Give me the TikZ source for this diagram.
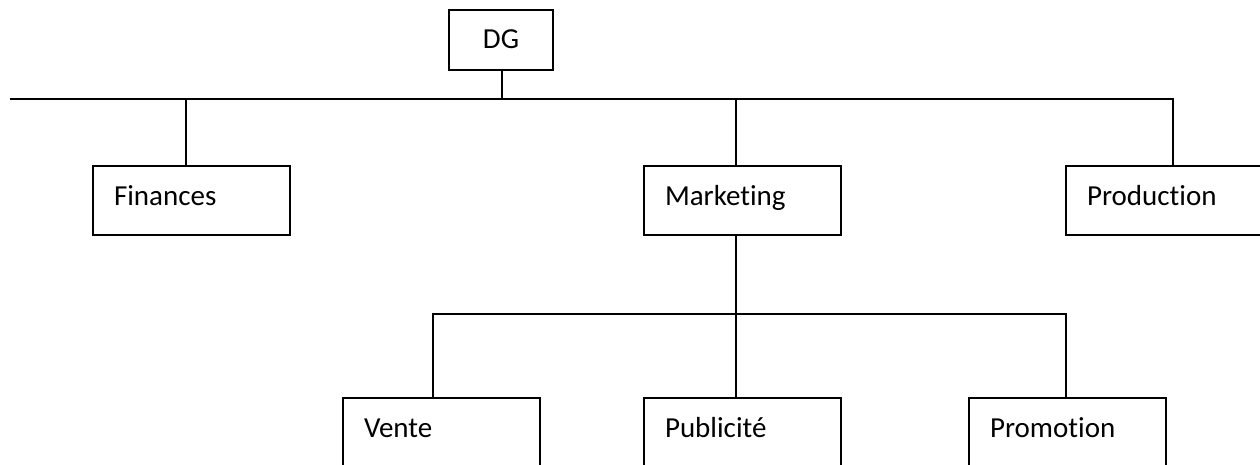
\documentclass[tikz,border=0pt]{standalone}
\usepackage{fontspec}
\setmainfont[Ligatures=NoCommon]{Carlito}
\begin{document}
\begin{tikzpicture}[x=1pt,y=-1pt,line width=2pt,
  unit/.style={draw,anchor=north west,inner xsep=21pt,inner ysep=0pt,
    text width=155pt,align=left,minimum height=69pt,
    text height=20pt,text depth=11pt,font=\fontsize{29}{34}\selectfont},
  topbox/.style={draw,anchor=north west,inner sep=0pt,
    minimum width=104pt,minimum height=60pt,
    text height=22pt,text depth=4.6pt,font=\fontsize{29}{34}\selectfont}]
  \clip (0,0) rectangle (1260,464);
  % boxes
  \node[topbox] (dg) at (448,9) {DG};
  \node[unit] (fin) at (92,165) {Finances};
  \node[unit] (mkt) at (643,165) {Marketing};
  \node[unit] (prod) at (1065,165) {Production};
  \node[unit] (vente) at (342,397) {Vente};
  \node[unit] (pub) at (643,397) {Publicité};
  \node[unit] (promo) at (968,397) {Promotion};
  % junction points on the two bars
  \coordinate (busL) at (9.6,99);
  \coordinate (jdg) at (501.7,99);
  \coordinate (jfin) at (185.6,99);
  \coordinate (jmkt) at (735.7,99);
  \coordinate (jprod) at (1173.3,99);
  \coordinate (jv) at (432.7,314);
  \coordinate (jpub) at (735.7,314);
  \coordinate (jpromo) at (1065.7,314);
  % upper bar
  \draw (dg.south -| jdg) -- (jdg);
  \draw (busL) -- (jprod) -- (jprod |- prod.north);
  \draw (jfin) -- (jfin |- fin.north);
  \draw (jmkt) -- (jmkt |- mkt.north);
  % lower bar
  \draw (mkt.south -| jpub) -- (jpub |- pub.north);
  \draw (jv |- vente.north) -- (jv) -- (jpromo) -- (jpromo |- promo.north);
\end{tikzpicture}
\end{document}
